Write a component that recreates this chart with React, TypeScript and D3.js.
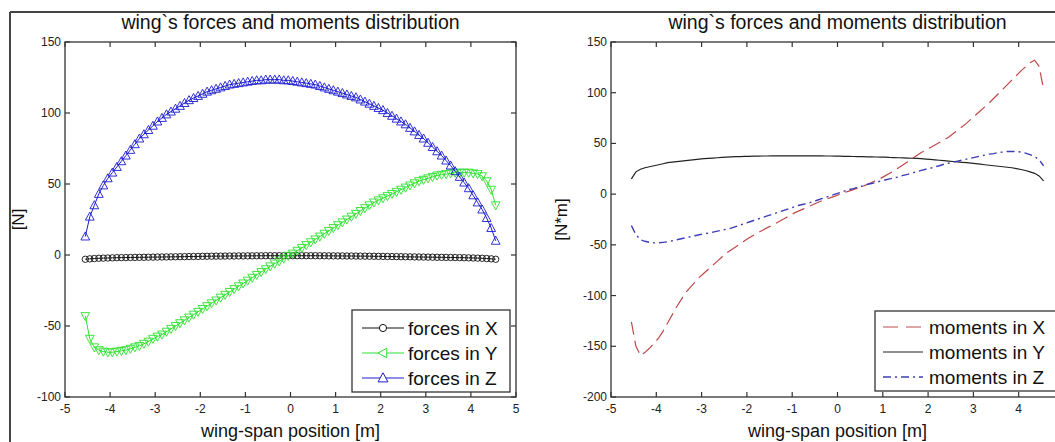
import React from "react";
import * as d3 from "d3";

// span stations: -4.55 .. 4.55 step 0.1
const SPAN_START = -4.55;
const SPAN_STEP = 0.1;

const forcesX = [
  -3.0, -2.7, -2.5, -2.3, -2.2, -2.1, -2.0, -1.9, -1.85, -1.8, -1.75, -1.7, -1.65, -1.6, -1.55, -1.5,
  -1.45, -1.4, -1.35, -1.3, -1.25, -1.2, -1.15, -1.1, -1.05, -1.0, -0.95, -0.9, -0.85, -0.8, -0.8, -0.75,
  -0.7, -0.7, -0.65, -0.65, -0.6, -0.6, -0.55, -0.55, -0.5, -0.5, -0.5, -0.5, -0.5, -0.5,
  -0.5, -0.5, -0.5, -0.5, -0.5, -0.5, -0.55, -0.55, -0.6, -0.6, -0.65, -0.65, -0.7, -0.7, -0.75, -0.8,
  -0.8, -0.85, -0.9, -0.95, -1.0, -1.05, -1.1, -1.15, -1.2, -1.25, -1.3, -1.35, -1.4, -1.45, -1.5, -1.55,
  -1.6, -1.65, -1.7, -1.75, -1.8, -1.85, -1.9, -2.0, -2.1, -2.2, -2.3, -2.5, -2.7, -3.0,
];

const forcesY = [
  -43, -59, -65, -67, -68, -68.5, -68.5, -68, -67.5, -67, -66, -65, -64, -62.5, -61, -59,
  -57.5, -56, -54, -52, -50, -48, -46, -44, -42, -40, -38, -36, -34, -32, -30, -28,
  -26, -24, -22, -20, -18, -16, -14, -12, -10, -8, -6, -4.5, -2.5, -0.5,
  1, 3, 5, 7, 9, 11, 13, 15, 17, 19, 21, 23, 25, 27, 29, 31,
  33, 35, 37, 38.5, 40, 41.5, 43, 44.5, 46, 47.5, 49, 50.5, 52, 53, 54, 55,
  56, 56.5, 57, 57.5, 58, 58, 58, 58, 57.5, 57, 55.5, 52, 46, 35,
];

const forcesZ = [
  13, 27, 35, 43, 49, 54, 58, 62, 66, 70, 74, 78, 82, 85, 88, 91,
  94, 96.5, 99, 101, 103, 105, 107, 109, 110.5, 112, 113.5, 115, 116, 117, 118, 119,
  120, 120.5, 121, 121.5, 122, 122.5, 123, 123, 123.5, 123.5, 123.5, 123.5, 123, 123,
  122.5, 122, 121.5, 121, 120.5, 120, 119, 118, 117, 116, 115, 114, 113, 112, 111, 109.5,
  108, 106.5, 105, 103.5, 102, 100, 98, 96, 94, 92, 89.5, 87, 84.5, 82, 79, 76,
  73, 70, 66.5, 63, 59, 55, 51, 47, 42, 37, 32, 26, 19, 10,
];

const momentsX = [
  -126, -150, -159, -156, -152, -147, -142, -135, -127, -119, -111, -104, -97, -92, -87, -82,
  -78, -74, -70, -66, -62, -58, -55, -52, -49, -46, -43, -40.5, -38, -35.5, -33, -31,
  -28.5, -26, -23.5, -21, -18.5, -16.5, -14.5, -12.5, -10.5, -8.5, -6.5, -5, -3.5, -2,
  0, 1.5, 3, 4.5, 6, 7.5, 9.5, 11.5, 13.5, 15.5, 18, 20.5, 23, 26, 29, 32,
  35, 38, 41, 43.5, 46, 48.5, 51, 53.5, 56, 59.5, 63, 66.5, 70, 74, 78, 82,
  86, 90, 94.5, 99, 103.5, 108, 112.5, 117, 121.5, 125.5, 129.5, 132, 126, 103,
];

const momentsY = [
  15, 22, 24.5, 26, 27, 28, 29, 30, 31, 31.5, 32, 32.5, 33, 33.5, 34, 34.5,
  35, 35.3, 35.6, 35.9, 36.2, 36.5, 36.7, 36.9, 37, 37.2, 37.3, 37.4, 37.5, 37.6, 37.6, 37.7,
  37.7, 37.8, 37.8, 37.8, 37.8, 37.8, 37.8, 37.8, 37.8, 37.7, 37.7, 37.6, 37.6, 37.5,
  37.4, 37.3, 37.2, 37.1, 37, 36.9, 36.8, 36.7, 36.6, 36.5, 36.4, 36.2, 36.1, 35.9, 35.8, 35.6,
  35.4, 35.2, 35, 34.6, 34.2, 33.8, 33.4, 33, 32.6, 32.2, 31.8, 31.4, 31, 30.5, 30, 29.5,
  29, 28.5, 28, 27.5, 27, 26.5, 26, 25.2, 24.3, 23.3, 22, 20.5, 18, 13,
];

const momentsZ = [
  -31, -40, -45, -46.5, -47.5, -48, -48, -47.5, -47, -46, -45, -44, -43, -42, -41, -40,
  -39, -38.5, -37.5, -36.5, -35.5, -34.5, -33.5, -32, -30.5, -29, -27.5, -26, -24.5, -23, -21.5, -20,
  -18.5, -17, -15.5, -14, -12.5, -11, -10, -9, -7.5, -6, -4.5, -3, -1.5, 0,
  1.5, 3, 4.5, 5.5, 7, 8, 9.5, 10.5, 11.5, 13, 14, 15, 16, 17, 18.5, 19.5,
  21, 22, 23.5, 24.5, 25.5, 27, 28, 29.5, 30.5, 31.5, 32.5, 33.5, 34.5, 35.5, 36.5, 37.5,
  38.5, 39.5, 40, 41, 41.5, 42, 42, 42, 41.5, 40.5, 39, 37, 34, 28,
];

const xTicks = [-5, -4, -3, -2, -1, 0, 1, 2, 3, 4, 5];
const leftYTicks = [-100, -50, 0, 50, 100, 150];
const rightYTicks = [-200, -150, -100, -50, 0, 50, 100, 150];

const TITLE = "wing`s forces and moments distribution";
const X_LABEL = "wing-span position [m]";
const forceLegend = ["forces in X", "forces in Y", "forces in Z"];
const momentLegend = ["moments in X", "moments in Y", "moments in Z"];

const FONT = "Arial, 'Liberation Sans', sans-serif";
const AXIS = "#333";
const W = 1055;

const spanX = (i: number) => SPAN_START + i * SPAN_STEP;

function triUp(s: number) {
  return `M0,${-s} L${s * 0.95},${s * 0.75} L${-s * 0.95},${s * 0.75} Z`;
}
function triDown(s: number) {
  return `M0,${s} L${s * 0.95},${-s * 0.75} L${-s * 0.95},${-s * 0.75} Z`;
}
function triLeft(s: number) {
  return `M${-s},0 L${s * 0.75},${-s * 0.95} L${s * 0.75},${s * 0.95} Z`;
}

type Frame = { left: number; right: number; top: number; bottom: number };

function Axes({ f, x, y, yTicks }: any) {
  const tl = 5;
  return (
    <g>
      <rect x={f.left} y={f.top} width={f.right - f.left} height={f.bottom - f.top} fill="none" stroke={AXIS} strokeWidth={1.3} />
      {xTicks.map((t) => (
        <g key={"xt" + t}>
          <line x1={x(t)} x2={x(t)} y1={f.bottom} y2={f.bottom - tl} stroke={AXIS} strokeWidth={1.2} />
          <line x1={x(t)} x2={x(t)} y1={f.top} y2={f.top + tl} stroke={AXIS} strokeWidth={1.2} />
          {x(t) + 5 < W ? (
            <text x={x(t)} y={f.bottom + 16} textAnchor="middle" fontSize={12} fontFamily={FONT} fill="#222">
              {t}
            </text>
          ) : null}
        </g>
      ))}
      {yTicks.map((t: number) => (
        <g key={"yt" + t}>
          <line x1={f.left} x2={f.left + tl} y1={y(t)} y2={y(t)} stroke={AXIS} strokeWidth={1.2} />
          <line x1={f.right} x2={f.right - tl} y1={y(t)} y2={y(t)} stroke={AXIS} strokeWidth={1.2} />
          <text x={f.left - 4} y={y(t) + 4} textAnchor="end" fontSize={12} fontFamily={FONT} fill="#222">
            {t}
          </text>
        </g>
      ))}
      <text x={(f.left + f.right) / 2} y={29} textAnchor="middle" fontSize={19.5} fontFamily={FONT} fill="#111">
        {TITLE}
      </text>
      <text x={(f.left + f.right) / 2} y={437} textAnchor="middle" fontSize={18} fontFamily={FONT} fill="#111">
        {X_LABEL}
      </text>
    </g>
  );
}

export default function App() {
  const L: Frame = { left: 65, right: 516, top: 42, bottom: 397 };
  const R: Frame = { left: 611, right: 1064, top: 42, bottom: 397 };
  const xL = d3.scaleLinear().domain([-5, 5]).range([L.left, L.right]);
  const yL = d3.scaleLinear().domain([-100, 150]).range([L.bottom, L.top]);
  const xR = d3.scaleLinear().domain([-5, 5]).range([R.left, R.right]);
  const yR = d3.scaleLinear().domain([-200, 150]).range([R.bottom, R.top]);

  const lineL = (vals: number[]) =>
    d3.line<number>().x((_, i) => xL(spanX(i))).y((v) => yL(v))(vals) || "";
  const lineR = (vals: number[]) =>
    d3.line<number>().x((_, i) => xR(spanX(i))).y((v) => yR(v))(vals) || "";

  const BLACK = "#111";
  const GREEN = "#2ee02e";
  const BLUE = "#1c1cd0";
  const RED = "#bf4a4a";
  const MBLUE = "#3d3db8";

  const leftSeries = [
    { vals: forcesX, color: BLACK, marker: "o" },
    { vals: forcesY, color: GREEN, marker: "v" },
    { vals: forcesZ, color: BLUE, marker: "^" },
  ];

  const rightSeries = [
    { vals: momentsX, color: RED, dash: "13,6", width: 1.2 },
    { vals: momentsY, color: "#222", dash: "", width: 1.2 },
    { vals: momentsZ, color: MBLUE, dash: "8,4,2,4", width: 1.4 },
  ];

  const markerPath = (m: string) => (m === "^" ? triUp(4.6) : m === "v" ? triDown(4.6) : "");

  return (
    <svg width={W} height={442} style={{ position: "absolute", left: 0, top: 0, background: "#fff" }}>
      <rect x={0} y={0} width={W} height={442} fill="#fff" />
      <line x1={10} x2={W} y1={12} y2={12} stroke="#444" strokeWidth={2} />
      <line x1={10} x2={10} y1={12} y2={442} stroke="#444" strokeWidth={2} />

      <Axes f={L} x={xL} y={yL} yTicks={leftYTicks} />
      <text transform={`translate(24,${(L.top + L.bottom) / 2}) rotate(-90)`} textAnchor="middle" fontSize={17} fontFamily={FONT} fill="#111">
        [N]
      </text>
      {leftSeries.map((s, k) => (
        <g key={"ls" + k}>
          <path d={lineL(s.vals)} fill="none" stroke={s.color} strokeWidth={1} />
          {s.vals.map((v, i) =>
            s.marker === "o" ? (
              <circle key={i} cx={xL(spanX(i))} cy={yL(v)} r={3.2} fill="none" stroke={s.color} strokeWidth={0.9} />
            ) : (
              <path key={i} transform={`translate(${xL(spanX(i))},${yL(v)})`} d={markerPath(s.marker)} fill="none" stroke={s.color} strokeWidth={0.9} />
            )
          )}
        </g>
      ))}
      <g>
        <rect x={352} y={310} width={158} height={82} fill="#fff" stroke={AXIS} strokeWidth={1.3} />
        {forceLegend.map((t, k) => {
          const yy = 328 + k * 25;
          const s = leftSeries[k];
          return (
            <g key={"lg" + k}>
              <line x1={362} x2={404} y1={yy} y2={yy} stroke={s.color} strokeWidth={1} />
              {s.marker === "o" ? (
                <circle cx={383} cy={yy} r={3.6} fill="#fff" stroke={s.color} strokeWidth={1} />
              ) : (
                <path transform={`translate(383,${yy})`} d={s.marker === "v" ? triLeft(5) : triUp(5.2)} fill="#fff" stroke={s.color} strokeWidth={1} />
              )}
              <text x={408} y={yy + 7} fontSize={19} fontFamily={FONT} fill="#111">
                {t}
              </text>
            </g>
          );
        })}
      </g>

      <Axes f={R} x={xR} y={yR} yTicks={rightYTicks} />
      <text transform={`translate(567,${(R.top + R.bottom) / 2}) rotate(-90)`} textAnchor="middle" fontSize={17} fontFamily={FONT} fill="#111">
        [N*m]
      </text>
      {rightSeries.map((s, k) => (
        <path key={"rs" + k} d={lineR(s.vals)} fill="none" stroke={s.color} strokeWidth={s.width} strokeDasharray={s.dash || undefined} />
      ))}
      <g>
        <rect x={875} y={311} width={200} height={80} fill="#fff" stroke={AXIS} strokeWidth={1.3} />
        {momentLegend.map((t, k) => {
          const yy = 327 + k * 25;
          const s = rightSeries[k];
          return (
            <g key={"rg" + k}>
              <line x1={883} x2={923} y1={yy} y2={yy} stroke={s.color} strokeWidth={s.width} strokeDasharray={k === 0 ? "15,8" : k === 2 ? "8,4,2,4" : undefined} />
              <text x={929} y={yy + 7} fontSize={19} fontFamily={FONT} fill="#111">
                {t}
              </text>
            </g>
          );
        })}
      </g>
    </svg>
  );
}
